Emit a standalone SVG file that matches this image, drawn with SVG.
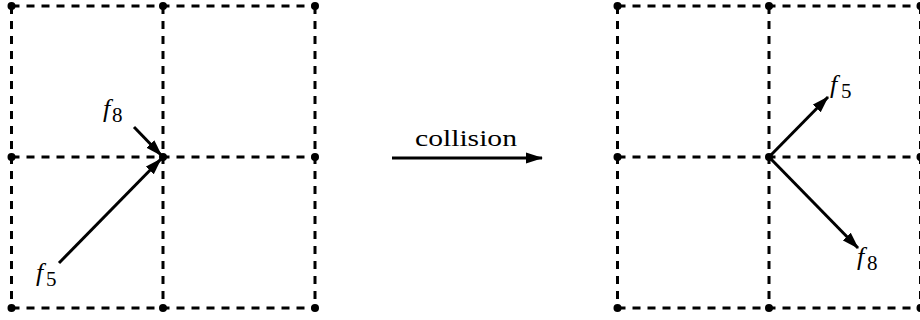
<svg xmlns="http://www.w3.org/2000/svg" width="920" height="320" viewBox="0 0 920 320">
<style>
.grid{stroke:#000;stroke-width:3;stroke-dasharray:8 7;fill:none}
.dot{fill:#000}
.arr{stroke:#000;stroke-width:3;fill:none;marker-end:url(#ah)}
.m{font-family:"Liberation Serif","Times New Roman","DejaVu Serif",serif;fill:#000}
.f{font-style:italic;font-size:26px}
.s{font-size:21px}
</style>
<defs>
<marker id="ah" markerUnits="userSpaceOnUse" markerWidth="17" markerHeight="12" viewBox="0 0 17 12" refX="16" refY="6" orient="auto">
<path d="M0,0.5 L17,6 L0,11.5 Z" fill="#000"/>
</marker>
</defs>
<g id="grid-left">
<path class="grid" d="M11.5,6H315M11.5,157H315M11.5,308H315M11.5,6V308M163,6V308M315,6V308"/>
<circle class="dot" cx="11.5" cy="6" r="4"/><circle class="dot" cx="163" cy="6" r="4"/><circle class="dot" cx="315" cy="6" r="4"/>
<circle class="dot" cx="11.5" cy="157" r="4"/><circle class="dot" cx="163" cy="157" r="4"/><circle class="dot" cx="315" cy="157" r="4"/>
<circle class="dot" cx="11.5" cy="308" r="4"/><circle class="dot" cx="163" cy="308" r="4"/><circle class="dot" cx="315" cy="308" r="4"/>
</g>
<g id="grid-right">
<path class="grid" d="M617.5,6H921M617.5,157H921M617.5,308H921M617.5,6V308M769,6V308M920.5,6V308"/>
<circle class="dot" cx="617.5" cy="6" r="4"/><circle class="dot" cx="769" cy="6" r="4"/><circle class="dot" cx="920.5" cy="6" r="4"/>
<circle class="dot" cx="617.5" cy="157" r="4"/><circle class="dot" cx="769" cy="157" r="4"/><circle class="dot" cx="920.5" cy="157" r="4"/>
<circle class="dot" cx="617.5" cy="308" r="4"/><circle class="dot" cx="769" cy="308" r="4"/><circle class="dot" cx="920.5" cy="308" r="4"/>
</g>
<g id="connectors">
<line class="arr" x1="59" y1="263" x2="161" y2="159"/>
<line class="arr" x1="134" y1="127" x2="161.5" y2="155.5"/>
<line class="arr" x1="392" y1="158" x2="542" y2="158"/>
<line class="arr" x1="769" y1="157" x2="828" y2="97"/>
<line class="arr" x1="769" y1="157" x2="858" y2="248"/>
</g>
<g id="label-f8-left"><text class="m"><tspan class="f" x="103" y="117">f</tspan><tspan class="s" x="112" y="122">8</tspan></text></g>
<g id="label-f5-left"><text class="m"><tspan class="f" x="36" y="281">f</tspan><tspan class="s" x="46" y="286">5</tspan></text></g>
<g id="label-f5-right"><text class="m"><tspan class="f" x="830" y="93">f</tspan><tspan class="s" x="841" y="98">5</tspan></text></g>
<g id="label-f8-right"><text class="m"><tspan class="f" x="857" y="265">f</tspan><tspan class="s" x="867" y="270">8</tspan></text></g>
<g id="label-collision"><text class="m" x="415" y="146" font-size="23" textLength="102" lengthAdjust="spacingAndGlyphs">collision</text></g>
</svg>
